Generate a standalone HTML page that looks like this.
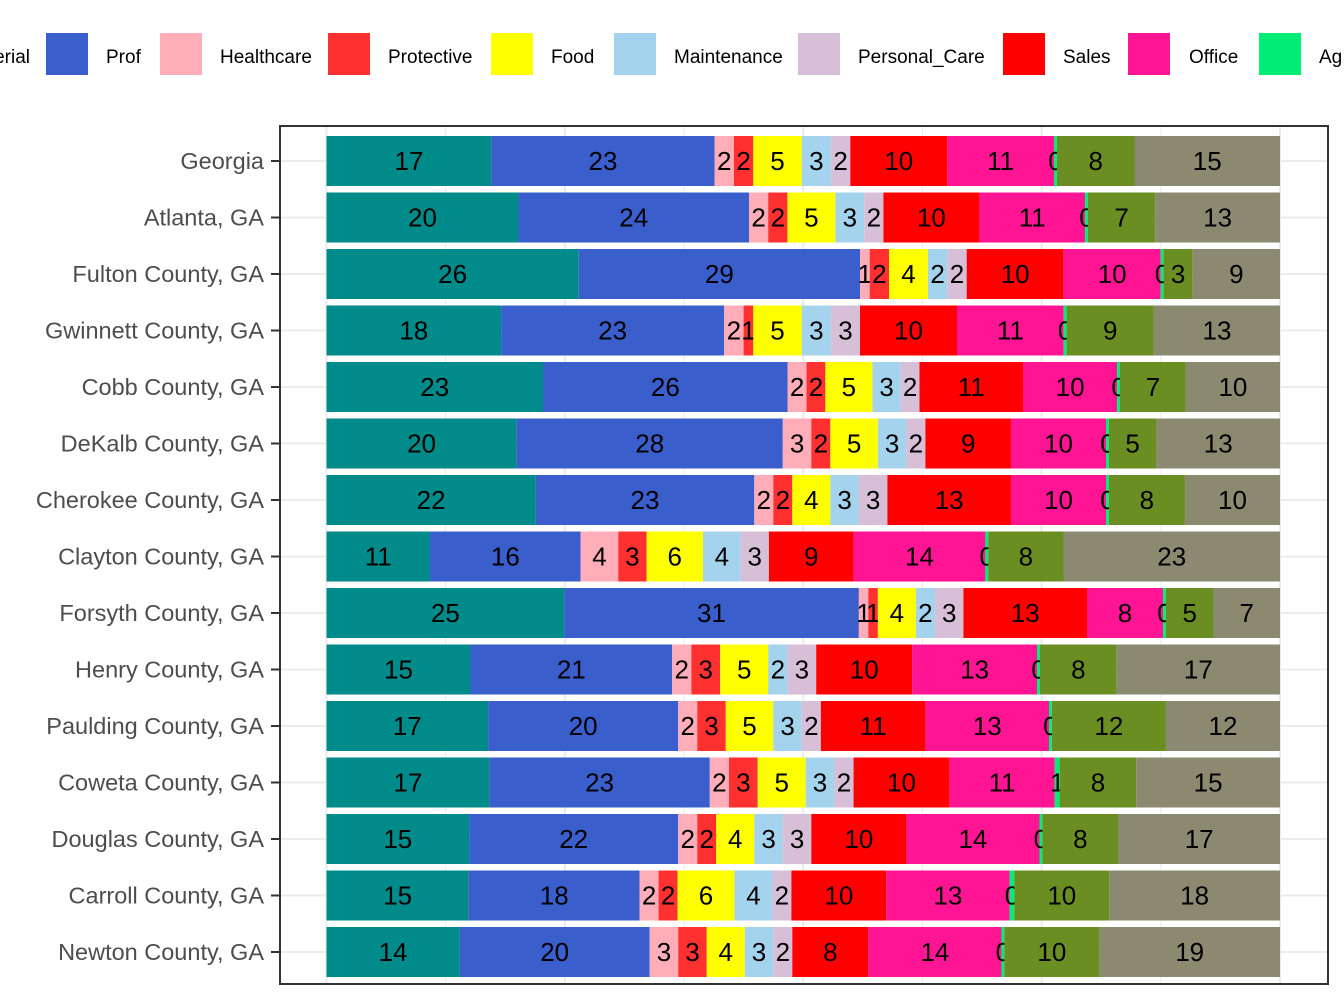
<!DOCTYPE html>
<html><head><meta charset="utf-8"><style>
body{margin:0;background:#fff;width:1344px;height:1008px;overflow:hidden}
svg{display:block;font-family:"Liberation Sans",Arial,sans-serif}
</style></head><body>
<svg id="chart" width="1344" height="1008" viewBox="0 0 1344 1008">
<g id="legend"></g>
<g id="grid"></g>
<g id="bars"></g>
<rect x="280" y="126" width="1048" height="858" fill="none" stroke="#333" stroke-width="2"/>
<g id="yaxis"></g>
</svg>
<script>
const categories=["Georgia","Atlanta, GA","Fulton County, GA","Gwinnett County, GA","Cobb County, GA","DeKalb County, GA","Cherokee County, GA","Clayton County, GA","Forsyth County, GA","Henry County, GA","Paulding County, GA","Coweta County, GA","Douglas County, GA","Carroll County, GA","Newton County, GA"];
const seriesNames=["Managerial","Prof","Healthcare","Protective","Food","Maintenance","Personal_Care","Sales","Office","Ag","Construction","Production"];
const seriesColors=["#008b8b","#3a5fcd","#ffaeb9","#ff3030","#ffff00","#a4d3ee","#d8bfd8","#ff0000","#ff1493","#00ee76","#6b8e23","#8b8970"];
const values=[
[17,23,2,2,5,3,2,10,11,0.3,8,15],
[20,24,2,2,5,3,2,10,11,0.3,7,13],
[26,29,1,2,4,2,2,10,10,0.3,3,9],
[18,23,2,1,5,3,3,10,11,0.3,9,13],
[23,26,2,2,5,3,2,11,10,0.3,7,10],
[20,28,3,2,5,3,2,9,10,0.3,5,13],
[22,23,2,2,4,3,3,13,10,0.3,8,10],
[11,16,4,3,6,4,3,9,14,0.3,8,23],
[25,31,1,1,4,2,3,13,8,0.3,5,7],
[15,21,2,3,5,2,3,10,13,0.3,8,17],
[17,20,2,3,5,3,2,11,13,0.3,12,12],
[17,23,2,3,5,3,2,10,11,0.5,8,15],
[15,22,2,2,4,3,3,10,14,0.3,8,17],
[15,18,2,2,6,4,2,10,13,0.5,10,18],
[14,20,3,3,4,3,2,8,14,0.3,10,19]
];
const labels=[
[17,23,2,2,5,3,2,10,11,0,8,15],
[20,24,2,2,5,3,2,10,11,0,7,13],
[26,29,1,2,4,2,2,10,10,0,3,9],
[18,23,2,1,5,3,3,10,11,0,9,13],
[23,26,2,2,5,3,2,11,10,0,7,10],
[20,28,3,2,5,3,2,9,10,0,5,13],
[22,23,2,2,4,3,3,13,10,0,8,10],
[11,16,4,3,6,4,3,9,14,0,8,23],
[25,31,1,1,4,2,3,13,8,0,5,7],
[15,21,2,3,5,2,3,10,13,0,8,17],
[17,20,2,3,5,3,2,11,13,0,12,12],
[17,23,2,3,5,3,2,10,11,1,8,15],
[15,22,2,2,4,3,3,10,14,0,8,17],
[15,18,2,2,6,4,2,10,13,0,10,18],
[14,20,3,3,4,3,2,8,14,0,10,19]
];
const NS="http://www.w3.org/2000/svg";
const X0=326.5,X1=1280;
const x=p=>X0+(X1-X0)*p/100;
const y=i=>161+i*56.5;
function mk(t,a,parent){const e=document.createElementNS(NS,t);for(const k in a)e.setAttribute(k,a[k]);parent.appendChild(e);return e;}
const grid=document.getElementById('grid'),bars=document.getElementById('bars'),ya=document.getElementById('yaxis'),lg=document.getElementById('legend');
for(let k=0;k<=8;k++){const g=mk('line',{x1:x(k*12.5),x2:x(k*12.5),y1:127,y2:983,stroke:'#ebebeb','stroke-width':k%2?1:2},grid);

}
categories.forEach((c,i)=>{
 const gl=mk('line',{x1:281,x2:1327,y1:y(i),y2:y(i),stroke:'#ebebeb','stroke-width':2},grid);
 
 
 const tot=values[i].reduce((a,b)=>a+b,0);let acc=0;
 values[i].forEach((v,j)=>{
  const p0=acc/tot*100;acc+=v;const p1=acc/tot*100;
  const r=mk('rect',{x:x(p0),y:y(i)-25,width:Math.max(0,x(p1)-x(p0)),height:50,fill:seriesColors[j]},bars);
  
  
  const t=mk('text',{x:(x(p0)+x(p1))/2,y:y(i)+9,'text-anchor':'middle','font-size':26,fill:'#000'},bars);
  t.textContent=labels[i][j];
  
  
 });
 const tk=mk('line',{x1:271,x2:280,y1:y(i),y2:y(i),stroke:'#333','stroke-width':2},ya);
 
 
 const tl=mk('text',{x:264,y:y(i)+8,'text-anchor':'end','font-size':23.5,fill:'#4d4d4d'},ya);
 tl.textContent=c;
 
 
});
const legItems=[[0,-88,30],[1,46,106],[2,160,220],[3,328,388],[4,491,551],[5,614,674],[6,798,858],[7,1003,1063],[8,1128,1189],[9,1259,1319]];
const legText=["Managerial","Prof","Healthcare","Protective","Food","Maintenance","Personal_Care","Sales","Office","Ag"];
legItems.forEach(([j,sx,tx])=>{
 const r=mk('rect',{x:sx,y:33,width:42,height:42,fill:seriesColors[j]},lg);
 
 
 const t=mk('text',{x:j===0?30:tx,y:63,'font-size':19,fill:'#000','text-anchor':j===0?'end':'start'},lg);
 t.textContent=legText[j];
 
 
});
</script>
</body></html>
